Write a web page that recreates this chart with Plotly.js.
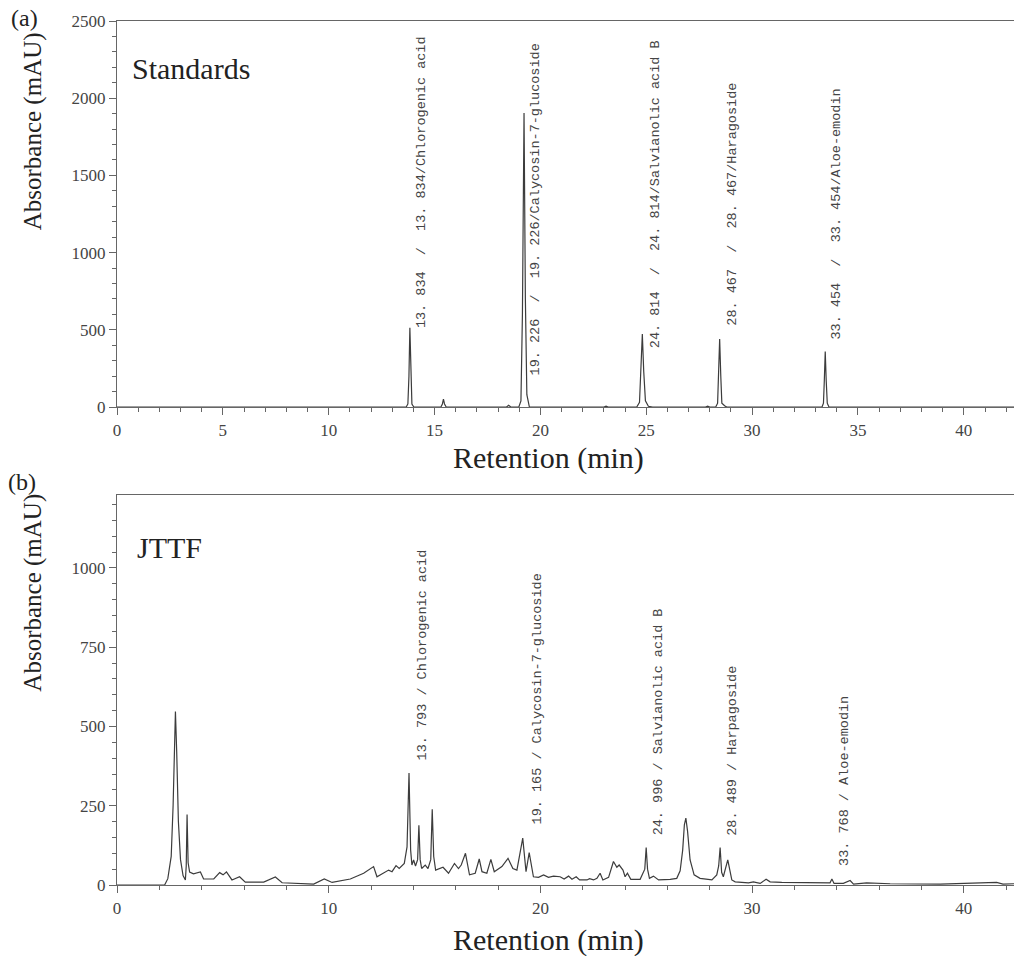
<!DOCTYPE html>
<html>
<head>
<meta charset="utf-8">
<script src="https://cdn.plot.ly/plotly-3.0.1.min.js"></script>
<style>html,body{margin:0;padding:0;background:#fff;}#chart{width:1014px;height:956px;}</style>
</head>
<body>
<div id="chart"></div>
<script>
// ---- Panel (a): Standards ----
const stdTime = [0, 13.66, 13.74, 13.79, 13.834, 13.88, 13.93, 14.02,
  15.30, 15.37, 15.42, 15.47, 15.55,
  18.40, 18.50, 18.60,
  18.98, 19.08, 19.15, 19.226, 19.29, 19.36, 19.48,
  23.00, 23.10, 23.20,
  24.55, 24.68, 24.75, 24.814, 24.88, 24.96, 25.10, 25.30,
  27.80, 27.90, 28.00,
  28.28, 28.37, 28.42, 28.467, 28.52, 28.57, 28.70, 28.80,
  33.30, 33.37, 33.41, 33.454, 33.50, 33.55, 33.63, 42.37];
const stdAbs = [0, 0, 20, 200, 514, 200, 20, 0,
  0, 20, 52, 20, 0,
  0, 12, 0,
  0, 40, 600, 1904, 700, 80, 0,
  0, 6, 0,
  0, 30, 220, 473, 230, 40, 5, 0,
  0, 6, 0,
  0, 25, 200, 440, 200, 25, 8, 0,
  0, 25, 170, 360, 170, 25, 0, 0];

const stdLabels = ["13. 834  /  13. 834/Chlorogenic acid",
  "19. 226  /  19. 226/Calycosin-7-glucoside",
  "24. 814  /  24. 814/Salvianolic acid B",
  "28. 467  /  28. 467/Haragoside",
  "33. 454  /  33. 454/Aloe-emodin"];
const stdLabelX = [14.42, 19.76, 25.42, 29.06, 34.01];
const stdLabelY = [500, 194, 369, 512, 421];

// ---- Panel (b): JTTF ----
const jttfTime = [0, 2.25, 2.40, 2.50, 2.56, 2.65, 2.70, 2.76, 2.82, 2.90, 3.00, 3.12, 3.23,
  3.27, 3.31, 3.36, 3.43, 3.61, 3.94, 4.09, 4.57, 4.85, 5.01, 5.17, 5.43, 5.79, 6.06,
  6.93, 7.48, 7.80, 9.29, 9.79, 10.16, 10.70, 11.02, 11.65, 12.12, 12.28, 12.83, 12.99,
  13.18, 13.33, 13.57, 13.70, 13.793, 13.87, 13.93, 14.01, 14.10, 14.20, 14.26, 14.32,
  14.39, 14.56, 14.69, 14.82, 14.89, 14.96, 15.05, 15.40, 15.66, 15.94, 16.13, 16.26,
  16.46, 16.65, 16.92, 17.11, 17.24, 17.47, 17.66, 17.82, 18.18, 18.47, 18.70, 18.89,
  19.165, 19.32, 19.47, 19.67, 19.91, 20.15, 20.38, 20.62, 20.93, 21.12, 21.33, 21.49,
  21.69, 21.85, 22.20, 22.32, 22.51, 22.67, 22.82, 22.95, 23.22, 23.45, 23.61, 23.72,
  23.90, 24.00, 24.11, 24.27, 24.71, 24.93, 24.996, 25.06, 25.15, 25.34, 25.58, 26.13,
  26.44, 26.60, 26.72, 26.80, 26.87, 26.95, 27.07, 27.26, 27.54, 28.10, 28.33, 28.42,
  28.489, 28.56, 28.64, 28.85, 29.04, 29.20, 29.83, 30.06, 30.38, 30.66, 30.85, 31.40,
  32.27, 33.37, 33.68, 33.768, 33.87, 34.31, 34.63, 34.79, 35.41, 36.52, 38.88, 41.55,
  41.85, 42.37];
const jttfAbs = [0, 0, 20, 75, 90, 250, 430, 547, 420, 200, 80, 30, 16,
  60, 222, 70, 41, 35, 41, 19, 19, 39, 32, 41, 16, 26, 9,
  9, 25, 7, 3, 19, 8, 16, 19, 37, 58, 26, 47, 42,
  61, 52, 68, 120, 353, 110, 63, 79, 60, 80, 188, 80,
  52, 63, 52, 80, 239, 90, 47, 56, 37, 68, 52, 63,
  100, 32, 37, 82, 42, 37, 81, 42, 58, 84, 52, 47,
  148, 42, 102, 26, 24, 32, 24, 28, 26, 19, 28, 18,
  26, 16, 16, 20, 16, 21, 37, 16, 24, 74, 56, 63,
  47, 26, 37, 18, 18, 50, 118, 50, 21, 28, 16, 18,
  21, 45, 110, 190, 211, 170, 79, 32, 21, 16, 32, 60,
  118, 40, 26, 79, 16, 10, 7, 10, 5, 18, 10, 8,
  7, 5, 7, 19, 5, 5, 14, 3, 7, 4, 3, 8,
  3, 4];

const jttfLabels = ["13. 793 / Chlorogenic acid",
  "19. 165 / Calycosin-7-glucoside",
  "24. 996 / Salvianolic acid B",
  "28. 489 / Harpagoside",
  "33. 768 / Aloe-emodin"];
const jttfLabelX = [14.42, 19.85, 25.56, 29.10, 34.39];
const jttfLabelY = [386, 184, 149, 149, 54];

// ---- styling ----
const serif = "Liberation Serif, Times New Roman, serif";
const mono = "Liberation Mono, DejaVu Sans Mono, monospace";
const axisCol = "#666";
const textCol = "#444";

const traces = [
  {x: stdTime, y: stdAbs, type: "scatter", mode: "lines", xaxis: "x", yaxis: "y",
   line: {color: "#3c3c3c", width: 1.2}, hoverinfo: "x+y"},
  {x: jttfTime, y: jttfAbs, type: "scatter", mode: "lines", xaxis: "x2", yaxis: "y2",
   line: {color: "#3c3c3c", width: 1.2}, hoverinfo: "x+y"}
];

function xAxis(anchor, dtick, minorDtick) {
  return {anchor: anchor, domain: [0, 1], range: [0, 42.37], dtick: dtick, tick0: 0,
    ticks: "outside", ticklen: 7, tickcolor: axisCol, tickwidth: 1,
    showline: true, linecolor: axisCol, linewidth: 1.2, mirror: true,
    showgrid: false, zeroline: false,
    tickfont: {family: serif, size: 17, color: textCol},
    minor: {dtick: minorDtick, tick0: 0, ticks: "outside", ticklen: 4, tickcolor: axisCol, showgrid: false}};
}
function yAxis(anchor, domain, range, dtick, minorDtick) {
  return {anchor: anchor, domain: domain, range: range, dtick: dtick, tick0: 0,
    ticks: "outside", ticklen: 7, tickcolor: axisCol, tickwidth: 1,
    showline: true, linecolor: axisCol, linewidth: 1.2,
    showgrid: false, zeroline: false,
    tickfont: {family: serif, size: 17, color: textCol},
    minor: {dtick: minorDtick, tick0: 0, ticks: "outside", ticklen: 4, tickcolor: axisCol, showgrid: false}};
}

const annotations = [];
stdLabels.forEach((t, i) => annotations.push({
  text: t, x: stdLabelX[i], y: stdLabelY[i], xref: "x", yref: "y",
  textangle: -90, xanchor: "center", yanchor: "bottom", showarrow: false,
  font: {family: mono, size: 13.5, color: textCol}}));
jttfLabels.forEach((t, i) => annotations.push({
  text: t, x: jttfLabelX[i], y: jttfLabelY[i], xref: "x2", yref: "y2",
  textangle: -90, xanchor: "center", yanchor: "bottom", showarrow: false,
  font: {family: mono, size: 13.5, color: textCol}}));

const paperText = [
  {text: "(a)", x: -0.103, y: 1.0035, size: 24, angle: 0, xa: "center"},
  {text: "(b)", x: -0.106, y: 0.4664, size: 24, angle: 0, xa: "center"},
  {text: "Absorbance (mAU)", x: -0.094, y: 0.872, size: 25, angle: -90, xa: "center"},
  {text: "Absorbance (mAU)", x: -0.094, y: 0.338, size: 25, angle: -90, xa: "center"},
  {text: "Retention (min)", x: 0.4805, y: 0.4945, size: 30, angle: 0, xa: "center"},
  {text: "Retention (min)", x: 0.4805, y: -0.0635, size: 30, angle: 0, xa: "center"},
  {text: "Standards", x: 0.0145, y: 0.9456, size: 30, angle: 0, xa: "left"},
  {text: "JTTF", x: 0.020, y: 0.391, size: 30, angle: 0, xa: "left"}
];
paperText.forEach(p => annotations.push({
  text: p.text, x: p.x, y: p.y, xref: "paper", yref: "paper",
  xanchor: p.xa, yanchor: "middle", textangle: p.angle, showarrow: false,
  font: {family: serif, size: p.size, color: "#222"}}));

const layout = {
  width: 1014, height: 956,
  margin: {l: 117, r: 0, t: 21, b: 71, pad: 0},
  paper_bgcolor: "#fff", plot_bgcolor: "#fff",
  showlegend: false,
  xaxis: xAxis("y", 5, 1),
  yaxis: yAxis("x", [0.5532, 1], [0, 2500], 500, 100),
  xaxis2: xAxis("y2", 10, 2),
  yaxis2: yAxis("x2", [0, 0.4514], [0, 1230], 250, 50),
  annotations: annotations
};

Plotly.newPlot("chart", traces, layout, {displayModeBar: false, staticPlot: true});
</script>
</body>
</html>
